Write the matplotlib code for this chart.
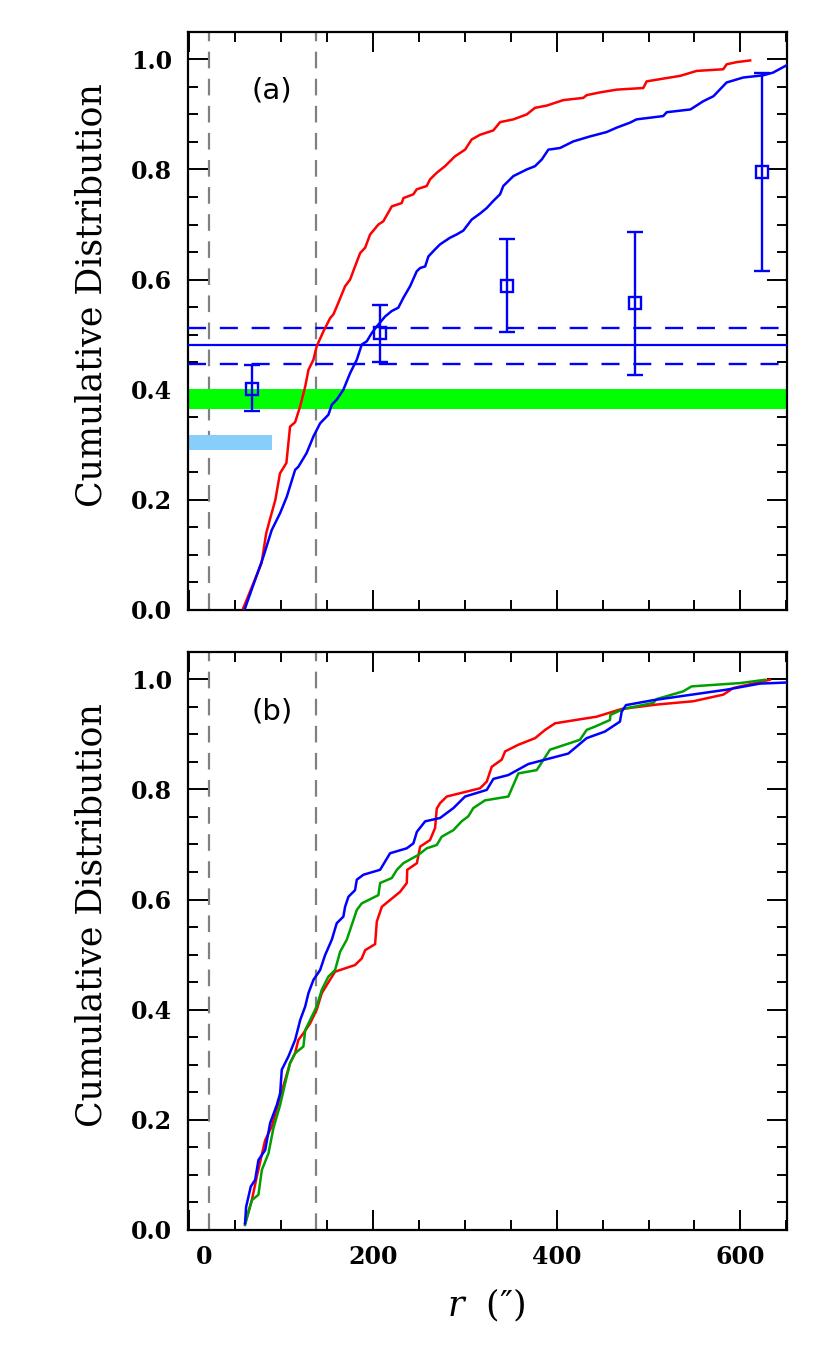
import numpy as np
import matplotlib
matplotlib.use("Agg")
import matplotlib.pyplot as plt
from matplotlib.ticker import MultipleLocator, FixedLocator
from matplotlib.transforms import ScaledTranslation

plt.rcParams['lines.scale_dashes'] = False
plt.rcParams['mathtext.fontset'] = 'dejavuserif'

# ---------------- data: panel (a) ----------------
red_a_x = [59, 79, 84, 88, 94, 99, 106, 110, 115.5, 121, 126.5, 130, 135.4, 139, 146.3, 153.6,
           157.2, 160.8, 169.9, 175.3, 180.7, 186.2, 191.7, 197.1, 206.1, 211.5, 220.7, 231.5,
           233.3, 244.2, 247.8, 258.7, 262.3, 269.6, 278.6, 289.5, 300.4, 307.6, 316.7, 331.2,
           338.5, 353, 367.5, 376.5, 389.2, 407.3, 429, 432.7, 447.3, 465.4, 494.3, 498, 516,
           534.4, 552.4, 581.3, 585, 596, 610.6]
red_a_y = [0.003, 0.085, 0.139, 0.164, 0.2, 0.248, 0.267, 0.333, 0.341, 0.37, 0.406, 0.436,
           0.4545, 0.479, 0.506, 0.53, 0.537, 0.551, 0.588, 0.6, 0.624, 0.648, 0.658, 0.682,
           0.7, 0.706, 0.733, 0.739, 0.748, 0.755, 0.764, 0.770, 0.782, 0.794, 0.806, 0.824,
           0.836, 0.8545, 0.863, 0.871, 0.886, 0.891, 0.9, 0.912, 0.916, 0.926, 0.930, 0.935,
           0.94, 0.945, 0.948, 0.96, 0.965, 0.97, 0.979, 0.982, 0.991, 0.995, 0.998]

blue_a_x = [61, 81, 90, 99.2, 106.5, 115.5, 119, 128, 135.4, 142.7, 151.7, 155.4, 160.8, 168,
            175.3, 182.6, 188, 193.5, 198.9, 204.4, 213.4, 220.7, 227.8, 233.3, 240.6, 247.8,
            251.5, 257, 260.5, 267.8, 273.2, 284, 291.3, 298.5, 307.6, 316.7, 324, 331.2,
            338.5, 342, 353, 367.5, 376.5, 383.8, 391, 403.7, 418.2, 436.3, 454.5, 465.4,
            479.8, 487, 516, 519.8, 545.6, 559.6, 570.6, 585, 603, 624.7, 635.6, 650]
blue_a_y = [0.003, 0.097, 0.145, 0.176, 0.206, 0.2545, 0.26, 0.285, 0.315, 0.339, 0.3545,
            0.3727, 0.382, 0.4, 0.430, 0.4545, 0.482, 0.488, 0.503, 0.515, 0.533, 0.543, 0.549,
            0.567, 0.588, 0.615, 0.621, 0.624, 0.642, 0.655, 0.664, 0.676, 0.682, 0.689, 0.709,
            0.72, 0.73, 0.743, 0.755, 0.77, 0.788, 0.8, 0.806, 0.818, 0.836, 0.839, 0.851,
            0.86, 0.868, 0.876, 0.885, 0.891, 0.897, 0.904, 0.909, 0.924, 0.933, 0.958, 0.967,
            0.971, 0.976, 0.989]

pts_x = [69, 208, 346.4, 485.6, 624]
pts_y = [0.402, 0.503, 0.589, 0.557, 0.795]
pts_lo = [0.362, 0.451, 0.504, 0.427, 0.615]
pts_hi = [0.445, 0.553, 0.674, 0.687, 0.975]

frac_mid = 0.4805
frac_lo = 0.447
frac_hi = 0.5127
green_band = [0.365, 0.401]
lightblue_band = [0.290, 0.318]
lightblue_xmax = 90
vlines_x = [22, 138]

# ---------------- data: panel (b) ----------------
red_b_x = [61, 68.4, 73.8, 82.9, 90.1, 99.2, 104.6, 110, 115.5, 119, 124.5, 131.8, 139, 144.5,
           150, 159, 180.7, 188, 191.7, 202.5, 204.4, 209.9, 218.8, 229.7, 237, 237.5, 248,
           251.5, 262.3, 267.8, 269.6, 273.2, 280.5, 316.7, 324, 329.4, 340.3, 344, 358.4,
           376.6, 387.5, 398.4, 443.6, 470.8, 508.9, 548.7, 581.4, 592.2, 632]
red_b_y = [0.012, 0.054, 0.097, 0.163, 0.188, 0.242, 0.272, 0.303, 0.321, 0.345, 0.357, 0.375,
           0.4, 0.43, 0.445, 0.469, 0.481, 0.493, 0.508, 0.519, 0.56, 0.587, 0.599, 0.614, 0.63,
           0.654, 0.666, 0.696, 0.708, 0.730, 0.765, 0.775, 0.787, 0.802, 0.814, 0.841, 0.854,
           0.869, 0.881, 0.893, 0.908, 0.920, 0.932, 0.946, 0.954, 0.96, 0.972, 0.984, 0.999]

blue_b_x = [61, 62.2, 67.3, 72, 75.6, 82.9, 88.3, 95.6, 99.2, 101, 108.2, 115.5, 121, 126.5,
            130, 135.4, 142.7, 148.1, 155.4, 160.8, 168, 169.9, 173.5, 180.7, 182.6, 189.8,
            208, 218.8, 237, 244.2, 248, 257, 273.2, 287.7, 300.4, 324, 331.2, 347.5, 369.2,
            412.7, 432.7, 452.6, 468.9, 470.8, 475.5, 505.2, 584.9, 621, 650]
blue_b_y = [0.012, 0.042, 0.079, 0.091, 0.127, 0.145, 0.194, 0.227, 0.248, 0.291, 0.315,
            0.345, 0.381, 0.406, 0.43, 0.454, 0.472, 0.499, 0.527, 0.557, 0.569, 0.587, 0.605,
            0.617, 0.636, 0.645, 0.654, 0.684, 0.693, 0.702, 0.723, 0.742, 0.748, 0.766, 0.787,
            0.799, 0.819, 0.826, 0.846, 0.865, 0.893, 0.905, 0.923, 0.941, 0.953, 0.962, 0.981,
            0.992, 0.994]

green_b_x = [61, 68.4, 75.6, 79.3, 86.5, 91.9, 99.2, 104.6, 110, 115.5, 124.5, 126.5, 131.8,
             139, 144.5, 151.7, 159, 164.4, 171.7, 179, 182.6, 188, 206.1, 208, 220.7, 226.2,
             233.3, 249.6, 258.7, 269.6, 275, 287.7, 296.7, 303.9, 309.4, 322, 347.5, 358.4,
             378.4, 392.8, 412.7, 425.4, 432.7, 441.8, 458.1, 458.5, 472.6, 505.2, 508.9,
             537.8, 546.9, 599.7, 627]
green_b_y = [0.009, 0.054, 0.064, 0.109, 0.139, 0.185, 0.227, 0.266, 0.303, 0.321, 0.333,
             0.363, 0.381, 0.406, 0.436, 0.46, 0.472, 0.505, 0.527, 0.563, 0.581, 0.593, 0.608,
             0.630, 0.639, 0.654, 0.666, 0.681, 0.693, 0.699, 0.714, 0.726, 0.742, 0.751,
             0.766, 0.780, 0.787, 0.829, 0.835, 0.872, 0.883, 0.890, 0.908, 0.914, 0.926,
             0.935, 0.946, 0.957, 0.964, 0.978, 0.987, 0.993, 0.999]

xticks_major = [0, 200, 400, 600]
xtick_labels = ['0', '200', '400', '600']
yticks_major = [0.0, 0.2, 0.4, 0.6, 0.8, 1.0]
ytick_labels = ['0.0', '0.2', '0.4', '0.6', '0.8', '1.0']

# ---------------- figure ----------------
fig = plt.figure(figsize=(8.30, 13.54), dpi=100)
ax1 = fig.add_axes([0.226, 0.5495, 0.722, 0.427])
ax2 = fig.add_axes([0.226, 0.0916, 0.722, 0.4271])

XLIM = (-1.5, 650.5)
YLIM = (0.0, 1.05)
GREY = '#808080'
BLUE = '#0000ff'
RED = '#ff0000'
GREEN = '#00a000'
TICKFONT = dict(fontfamily='DejaVu Serif', fontsize=17, fontweight='bold')

for ax in (ax1, ax2):
    ax.set_xlim(*XLIM)
    ax.set_ylim(*YLIM)
    ax.xaxis.set_major_locator(FixedLocator(xticks_major))
    ax.xaxis.set_minor_locator(MultipleLocator(50))
    ax.yaxis.set_major_locator(FixedLocator(yticks_major))
    ax.yaxis.set_minor_locator(MultipleLocator(0.05))
    ax.tick_params(which='both', direction='in', top=True, right=True, width=1.4, color='black')
    ax.tick_params(which='major', length=14.5, pad=11)
    ax.tick_params(which='minor', length=7.2)
    ax.set_yticklabels(ytick_labels, **TICKFONT)
    for s in ax.spines.values():
        s.set_linewidth(1.6)
    for vx in vlines_x:
        ax.axvline(vx, color=GREY, lw=1.6, ls=(0, (12, 7.5)), zorder=1)

# panel (a)
ax1.set_xticklabels([])
ax1.axhspan(green_band[0], green_band[1], color='#00ff00', lw=0, zorder=2)
ax1.fill_betweenx(lightblue_band, XLIM[0], lightblue_xmax, color='#87cefa', lw=0, zorder=2)
ax1.axhline(frac_mid, color=BLUE, lw=1.6, zorder=3)
ax1.axhline(frac_lo, color=BLUE, lw=1.7, ls=(0, (13, 9.9)), zorder=3)
ax1.axhline(frac_hi, color=BLUE, lw=1.7, ls=(0, (13, 9.9)), zorder=3)
ax1.plot(red_a_x, red_a_y, color=RED, lw=1.8, zorder=4)
ax1.plot(blue_a_x, blue_a_y, color=BLUE, lw=1.8, zorder=4)
yerr = [np.array(pts_y) - np.array(pts_lo), np.array(pts_hi) - np.array(pts_y)]
ax1.errorbar(pts_x, pts_y, yerr=yerr, fmt='s', color=BLUE, mfc='none', mec=BLUE, ms=8.5,
             mew=1.7, elinewidth=1.7, capsize=5.8, capthick=1.7, zorder=5)
ax1.text(90.5, 0.944, '(a)', fontfamily='DejaVu Sans', fontsize=21, ha='center', va='center')

# panel (b)
ax2.plot(red_b_x, red_b_y, color=RED, lw=1.8, zorder=4)
ax2.plot(green_b_x, green_b_y, color=GREEN, lw=1.8, zorder=4)
ax2.plot(blue_b_x, blue_b_y, color=BLUE, lw=1.8, zorder=5)
ax2.text(90.5, 0.942, '(b)', fontfamily='DejaVu Sans', fontsize=21, ha='center', va='center')
ax2.set_xticklabels(xtick_labels, **TICKFONT)
lab0 = ax2.xaxis.get_major_ticks()[0].label1
lab0.set_transform(lab0.get_transform() + ScaledTranslation(0.15, 0, fig.dpi_scale_trans))

# axis labels
for yc in (295, 915):
    fig.text(91 / 830, 1 - yc / 1354, 'Cumulative Distribution', rotation=90,
             fontfamily='DejaVu Serif', fontsize=25, ha='center', va='center')
fig.text(486 / 830, 1 - 1305 / 1354, r'$r$  (″)', fontfamily='DejaVu Serif', fontsize=25,
         ha='center', va='center')

fig.savefig('out.png', dpi=100)
